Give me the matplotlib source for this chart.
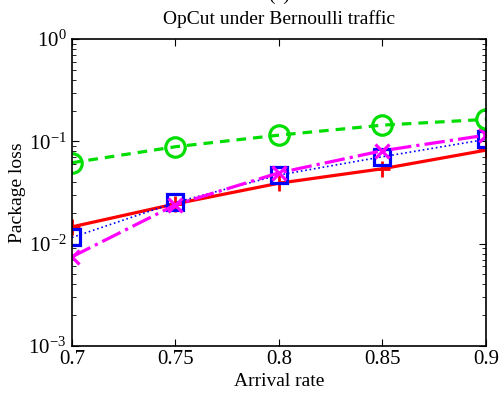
import matplotlib
matplotlib.use("Agg")
import matplotlib.pyplot as plt
from matplotlib.ticker import LogLocator, FixedLocator

plt.rcParams['font.family'] = ['Liberation Serif', 'DejaVu Serif']
plt.rcParams['mathtext.fontset'] = 'custom'
plt.rcParams['mathtext.rm'] = 'Liberation Serif'
plt.rcParams['mathtext.it'] = 'Liberation Serif:italic'

arrival = [0.7, 0.75, 0.8, 0.85, 0.9]
green_loss = [0.0618, 0.0886, 0.115, 0.144, 0.164]
red_loss = [0.0146, 0.0245, 0.039, 0.054, 0.082]
blue_loss = [0.0115, 0.0253, 0.0469, 0.0707, 0.1046]
magenta_loss = [0.00745, 0.0240, 0.0493, 0.081, 0.115]
xticks = [0.7, 0.75, 0.8, 0.85, 0.9]
xticklabels = ['0.7', '0.75', '0.8', '0.85', '0.9']

fig = plt.figure(figsize=(5.0, 3.94), dpi=100)
ax = fig.add_axes([0.144, 0.1218, 0.828, 0.7792])

ax.plot(arrival, red_loss, color='#ff0000', linestyle='-', linewidth=2.3,
        marker='+', markersize=11, markeredgewidth=2.0)
ax.plot(arrival, blue_loss, color='#0000ff', linestyle=':', linewidth=1.2,
        marker='s', markersize=11, markerfacecolor='none', markeredgewidth=2.3)
ax.plot(arrival, magenta_loss, color='#ff00ff', linestyle='-.', linewidth=2.3,
        marker='x', markersize=10, markeredgewidth=2.3)
ax.plot(arrival, green_loss, color='#00dd00', linestyle='--', linewidth=2.3,
        dashes=(3, 2.2), marker='o', markersize=14, markerfacecolor='none', markeredgewidth=2.3)

ax.set_yscale('log')
ax.set_xlim(0.7, 0.9)
ax.set_ylim(1e-3, 1)
ax.xaxis.set_major_locator(FixedLocator(xticks))
ax.set_xticklabels(xticklabels)
ax.yaxis.set_major_locator(LogLocator(base=10, numticks=10))
ax.yaxis.set_minor_locator(LogLocator(base=10, subs=range(2, 10), numticks=20))
ax.tick_params(which='both', direction='in', top=True, right=True, labelsize=15)
ax.tick_params(which='major', length=5, width=0.8)
ax.tick_params(which='minor', length=3, width=0.6)
ax.tick_params(axis='x', pad=3)
ax.tick_params(axis='y', pad=4)
for s in ax.spines.values():
    s.set_linewidth(1.2)

ax.set_xlabel('Arrival rate', fontsize=14, labelpad=3)
ax.set_ylabel('Package loss', fontsize=14, labelpad=2)
ax.set_title('OpCut under Bernoulli traffic', fontsize=14, pad=11)
fig.text(0.558, 1.013, '(c)', fontsize=14, ha='center', va='center')

fig.savefig('out.png', dpi=100)
